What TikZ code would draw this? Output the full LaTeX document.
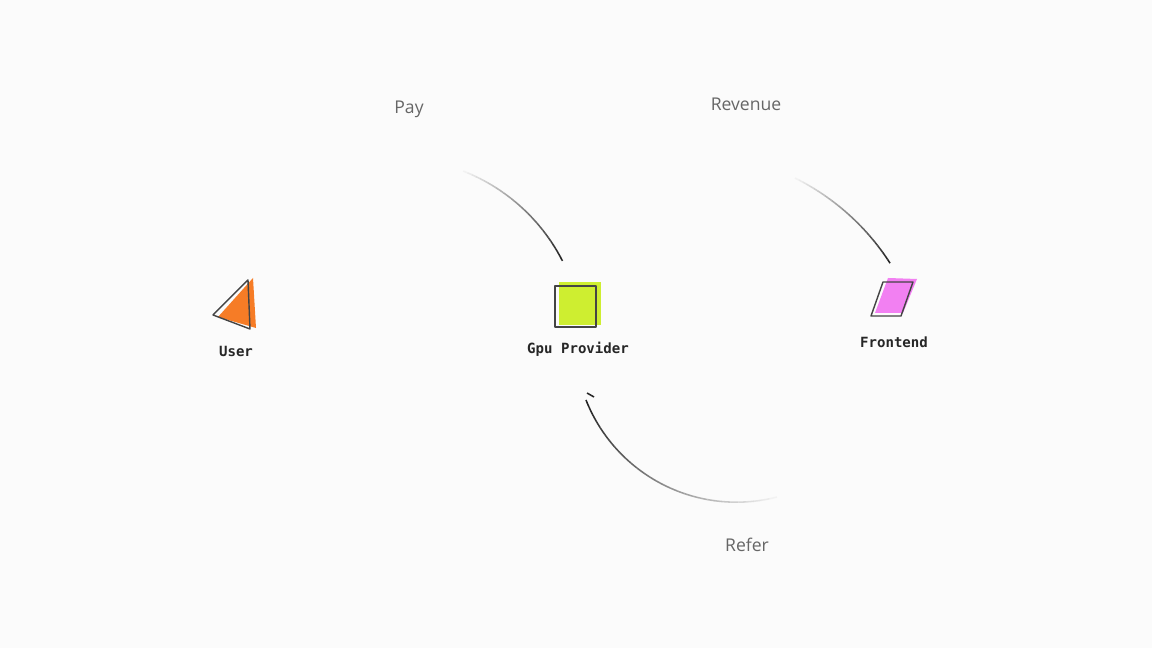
\documentclass[tikz,border=0pt]{standalone}
\usepackage{fontspec}
\usepackage{tikz}
\usetikzlibrary{positioning}
\newfontfamily\labelfont{Open Sans}
\newfontfamily\tagfont{DejaVu Sans Mono}

\definecolor{bgpaper}{RGB}{251,251,251}
\definecolor{inkgray}{RGB}{68,68,68}
\definecolor{lime}{RGB}{206,238,48}
\definecolor{pinky}{RGB}{242,128,242}
\definecolor{carrot}{RGB}{246,124,38}
\definecolor{edgetext}{RGB}{102,102,102}

\begin{document}
\begin{tikzpicture}[
    x=0.025cm, y=0.025cm,
    outline/.style={draw=inkgray, line width=1pt, line join=round},
    tag/.style={font=\tagfont\bfseries\fontsize{10}{12}\selectfont, text=black!85},
    edgelabel/.style={font=\labelfont\fontsize{12.5}{15}\selectfont, text=edgetext}
]

    % Background
    \fill[bgpaper] (0,0) rectangle (1152,648);

    % Nodes
    % User (triangle)
    \fill[carrot] (253,370) -- (256,320) -- (218,331) -- cycle;
    \draw[outline] (248,368) -- (250,319) -- (213,333) -- cycle;
    \coordinate (user) at (236,344);
    \node[tag, below=0.92cm of user] (userlbl) {User};

    % Gpu Provider (square)
    \fill[lime] (559,323) rectangle (601,366);
    \draw[outline] (555,321) rectangle (596,362);
    \coordinate (gpu) at (578,344);
    \node[tag, below=0.83cm of gpu] (gpulbl) {Gpu Provider};

    % Frontend (parallelogram)
    \fill[pinky] (888,370) -- (917,369) -- (903,335) -- (875,335) -- cycle;
    \draw[outline] (883,366) -- (913,366) -- (901,332) -- (871,332) -- cycle;
    \coordinate (front) at (894,350);
    \node[tag, below=0.85cm of front] (frontlbl) {Frontend};

    % Edge labels
    \node[edgelabel] (pay) at (409,539) {Pay};
    \node[edgelabel] (revenue) at (746,544) {Revenue};
    \node[edgelabel] (refer) at (747,103) {Refer};

    % Connections (fading arcs)
    \coordinate (paycenter) at (394.4,301.1);
    \coordinate (revcenter) at (688.6,255.5);
    \coordinate (refcenter) at (736.4,307.6);

    % Pay: User -> Gpu Provider
    \foreach \i in {0,...,29} {
        \pgfmathsetmacro\a{68.6-41.5*\i/30}
        \pgfmathsetmacro\b{68.6-41.5*(\i+1)/30}
        \pgfmathsetmacro\c{5+\i*2.8}
        \draw[black!\c, line width=1.1pt] (paycenter) ++(\a:188.8) arc[start angle=\a, end angle=\b, radius=188.8];
    }
    % Revenue: Gpu Provider -> Frontend
    \foreach \i in {0,...,29} {
        \pgfmathsetmacro\a{63.6-30.9*\i/30}
        \pgfmathsetmacro\b{63.6-30.9*(\i+1)/30}
        \pgfmathsetmacro\c{5+\i*2.8}
        \draw[black!\c, line width=1.1pt] (revcenter) ++(\a:239.4) arc[start angle=\a, end angle=\b, radius=239.4];
    }
    % Refer: Frontend -> Gpu Provider
    \foreach \i in {0,...,29} {
        \pgfmathsetmacro\a{284.5-82.9*\i/30}
        \pgfmathsetmacro\b{284.5-82.9*(\i+1)/30}
        \pgfmathsetmacro\c{5+\i*2.8}
        \draw[black!\c, line width=1.1pt] (refcenter) ++(\a:161.8) arc[start angle=\a, end angle=\b, radius=161.8];
    }
    \coordinate (tickA) at (587,255);
    \coordinate (tickB) at (594,251);
    \draw[black!85, line width=1.1pt] (tickA) -- (tickB);

\end{tikzpicture}
\end{document}
